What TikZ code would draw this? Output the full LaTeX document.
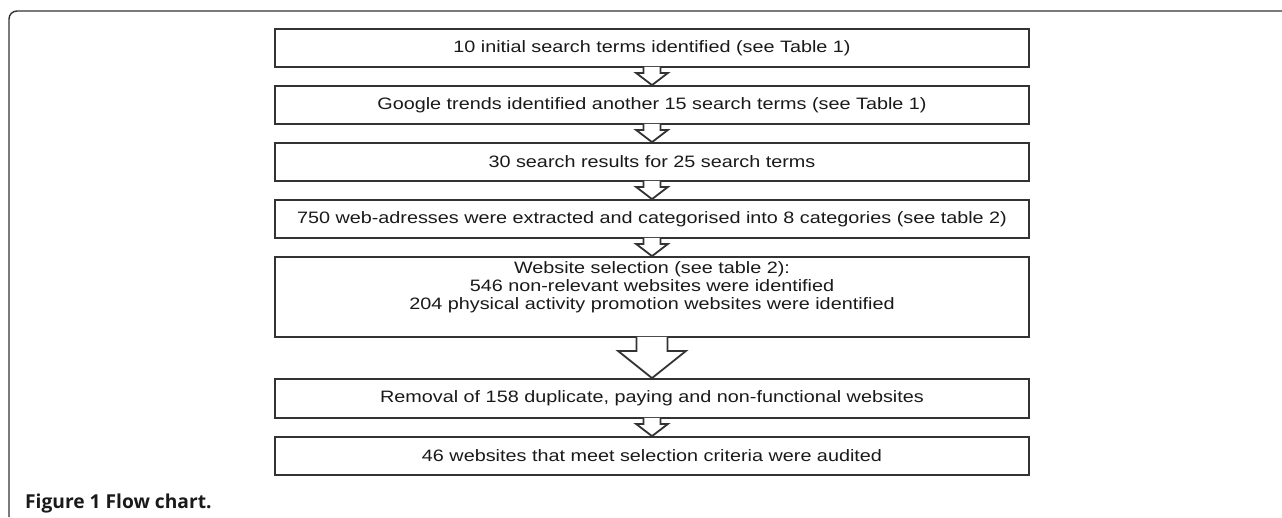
\documentclass[tikz,border=0pt]{standalone}
\usepackage{fontspec}
\setmainfont{Liberation Sans}
\newfontfamily\boxfont[FakeStretch=1.2]{Liberation Sans}
\newfontfamily\capfont{Open Sans}
\usetikzlibrary{calc}
\definecolor{edge}{HTML}{333333}
\definecolor{ink}{HTML}{1A1A1A}
\tikzset{
  flowbox/.style={draw=edge, line width=1.8pt, fill=white, minimum width=754pt,
    inner sep=0pt, font=\boxfont\fontsize{16.5}{18.3}\selectfont, text=ink, align=center},
  boxtext/.style={inner sep=0pt, font=\boxfont\fontsize{16.5}{18.3}\selectfont, text=ink, align=center},
  arrowline/.style={draw=edge, fill=white, line width=1.8pt, line join=miter},
  frameline/.style={draw=edge, line width=1.4pt, rounded corners=8pt}
}
\newcommand\flowarrow[5]{%
  \coordinate (A) at (#1.south);
  \coordinate (B) at (#2.north);
  \filldraw[arrowline] ($(A)+(-#3,-1)$) -- ($(A)+(-#3,#5)$) -- ($(A)+(-#4,#5)$) -- (B)
    -- ($(A)+(#4,#5)$) -- ($(A)+(#3,#5)$) -- ($(A)+(#3,-1)$);
}
\begin{document}
\begin{tikzpicture}[x=1pt,y=-1pt]
\useasboundingbox (0,0) rectangle (1282,517);
\fill[white] (0,0) rectangle (1282,517);
\draw[frameline] (9,517) -- (9,11) -- (1282,11);

\node[flowbox, minimum height=38pt] (b1) at (652,48) {10 initial search terms identified (see Table 1)};
\node[flowbox, minimum height=38pt] (b2) at (652,105) {Google trends identified another 15 search terms (see Table 1)};
\node[flowbox, minimum height=38pt] (b3) at (652,162) {30 search results for 25 search terms};
\node[flowbox, minimum height=38pt] (b4) at (652,219) {750 web-adresses were extracted and categorised into 8 categories (see table 2)};
\node[flowbox, minimum height=80pt] (b5) at (652,297) {};
\node[boxtext, anchor=north] (t5) at ($(b5.north)+(0,5)$) {Website selection (see table 2):\\546 non-relevant websites were identified\\204 physical activity promotion websites were identified};
\node[flowbox, minimum height=39pt] (b6) at (652,398.5) {Removal of 158 duplicate, paying and non-functional websites};
\node[flowbox, minimum height=38pt] (b7) at (652,456) {46 websites that meet selection criteria were audited};

\flowarrow{b1}{b2}{8.5}{16}{5}
\flowarrow{b2}{b3}{8.5}{16}{5}
\flowarrow{b3}{b4}{8.5}{16}{5}
\flowarrow{b4}{b5}{8.5}{16}{5}
\flowarrow{b5}{b6}{15.5}{34}{13}
\flowarrow{b6}{b7}{8.5}{16}{5}

\node[anchor=base west, inner sep=0pt, text=ink, font=\capfont\bfseries\fontsize{19.2}{21}\selectfont] (cap) at (25,508) {Figure 1 Flow chart.};
\end{tikzpicture}
\end{document}
